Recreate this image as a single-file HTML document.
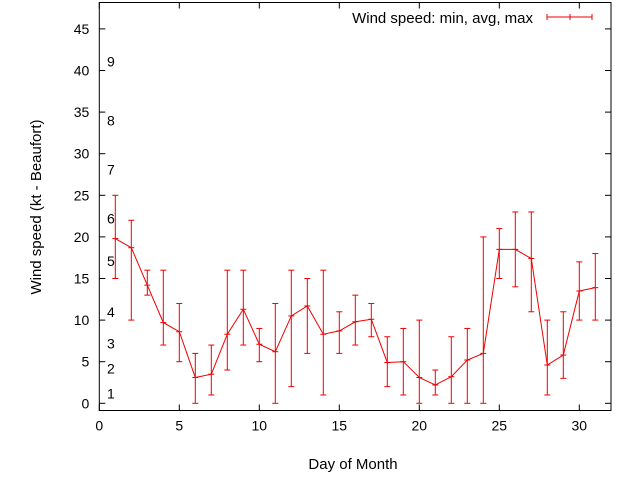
<!DOCTYPE html>
<html><head><meta charset="utf-8"><style>
body{margin:0;background:#fff}
svg{display:block;font-family:"Liberation Sans",sans-serif}
</style></head><body>
<svg id="chart" width="640" height="480">
<g id="axes"></g><g id="marks"></g>
<text x="533" y="23" text-anchor="end" font-size="15" fill="#000">Wind speed: min, avg, max</text>
<g stroke="#e00" stroke-width="1"><line x1="547" y1="17" x2="592" y2="17"/><line x1="547" y1="14" x2="547" y2="20"/><line x1="570" y1="14" x2="570" y2="20"/><line x1="592" y1="14" x2="592" y2="20"/></g>
<text x="353" y="469" text-anchor="middle" font-size="15">Day of Month</text>
<text transform="translate(41,207) rotate(-90)" text-anchor="middle" font-size="15">Wind speed (kt - Beaufort)</text>
</svg>
<script>
const days=[1,2,3,4,5,6,7,8,9,10,11,12,13,14,15,16,17,18,19,20,21,22,23,24,25,26,27,28,29,30,31];
const avgV=[19.8,18.7,14.2,9.7,8.6,3.1,3.5,8.3,11.3,7.1,6.2,10.5,11.7,8.3,8.7,9.8,10.1,4.9,5.0,3.1,2.2,3.2,5.2,6.0,18.5,18.5,17.4,4.6,5.8,13.5,13.9];
const minV=[15,10,13,7,5,0,1,4,7,5,0,2,6,1,6,7,8,2,1,0,1,0,0,0,15,14,11,1,3,10,10];
const maxV=[25,22,16,16,12,6,7,16,16,9,12,16,15,16,11,13,12,8,9,10,4,8,9,20,21,23,23,10,11,17,18];
const xTicks=[0,5,10,15,20,25,30];
const yTicks=[0,5,10,15,20,25,30,35,40,45];
const beaufort=["1","2","3","4","5","6","7","8","9"];
const beaufortY=[1.2,4.2,7.2,11,17.1,22.2,28.1,34,41.1];
const L=99.3,R=611,T=2.5,B=410.5;
const X=v=>99.3+v*16;
const Y=v=>403.3-v*8.32;
const NS="http://www.w3.org/2000/svg";
function mk(parent,tag,attrs){const e=document.createElementNS(NS,tag);for(const k in attrs)e.setAttribute(k,attrs[k]);parent.appendChild(e);return e;}
const axes=document.getElementById('axes'),marks=document.getElementById('marks');
const frame=mk(axes,'rect',{x:L,y:T,width:R-L,height:B-T,fill:'none',stroke:'#000','stroke-width':1});


xTicks.forEach(t=>{
  const g=mk(axes,'g',{stroke:'#000'});
  
  
  mk(g,'line',{x1:X(t),x2:X(t),y1:B,y2:B-6});
  mk(g,'line',{x1:X(t),x2:X(t),y1:T,y2:T+6});
  const tx=mk(axes,'text',{x:X(t),y:B+20,'text-anchor':'middle','font-size':14});
  tx.textContent=t;
  
  
});
yTicks.forEach(t=>{
  const g=mk(axes,'g',{stroke:'#000'});
  
  
  mk(g,'line',{x1:L,x2:L+6,y1:Y(t),y2:Y(t)});
  mk(g,'line',{x1:R,x2:R-6,y1:Y(t),y2:Y(t)});
  const tx=mk(axes,'text',{x:L-10,y:Y(t)+5,'text-anchor':'end','font-size':14});
  tx.textContent=t;
  
  
});
beaufort.forEach((b,i)=>{
  const tx=mk(axes,'text',{x:107,y:Y(beaufortY[i])+5,'font-size':14});
  tx.textContent=b;
  
  
});
days.forEach((d,i)=>{
  const g=mk(marks,'g',{stroke:'#e00','stroke-width':1});
  
  
  const x=X(d);
  mk(g,'line',{x1:x,x2:x,y1:Y(minV[i]),y2:Y(maxV[i])});
  mk(g,'line',{x1:x-3,x2:x+3,y1:Y(minV[i]),y2:Y(minV[i])});
  mk(g,'line',{x1:x-3,x2:x+3,y1:Y(maxV[i]),y2:Y(maxV[i])});
  mk(g,'line',{x1:x-3,x2:x+3,y1:Y(avgV[i]),y2:Y(avgV[i])});
});
const line=mk(marks,'polyline',{fill:'none',stroke:'#e00','stroke-width':1,points:days.map((d,i)=>X(d)+','+Y(avgV[i])).join(' ')});


</script>
</body></html>
